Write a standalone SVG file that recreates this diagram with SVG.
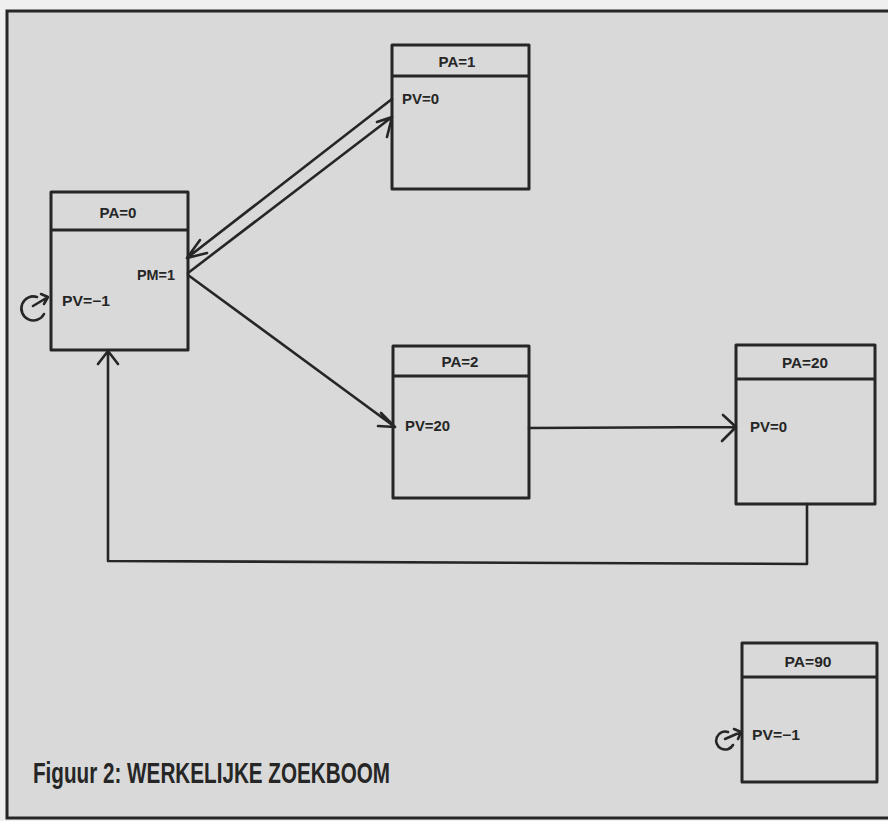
<svg xmlns="http://www.w3.org/2000/svg" width="888" height="821" viewBox="0 0 888 821">
<defs>
<style>
.box{fill:none;stroke:#262626;stroke-width:3;stroke-linejoin:round}
.ln{fill:none;stroke:#262626;stroke-width:2.6;stroke-linecap:round;stroke-linejoin:round}
.t{font-family:"Liberation Sans",Arial,sans-serif;font-weight:bold;font-size:14px;fill:#262626}
.cap{font-family:"Liberation Sans",Arial,sans-serif;font-weight:bold;font-size:30px;fill:#262626}
</style>
</defs>
<rect x="0" y="0" width="888" height="821" fill="#efefef"/>
<rect x="7" y="11" width="890" height="807" fill="#d9d9d9" stroke="#262626" stroke-width="3"/>

<g id="connectors">
<!-- PA=1 to PA=0 -->
<path class="ln" d="M392 99 L187 258 M200 240 L187 258 L207 253"/>
<!-- PA=0 to PA=1 -->
<path class="ln" d="M188 273 L392 117 M377 122 L392 117 L387 137"/>
<!-- PA=0 to PA=2 -->
<path class="ln" d="M188 275 L395 427 M381 413 L395 427 L378 426"/>
<!-- PA=2 to PA=20 -->
<path class="ln" d="M529 428 L736 427 M723 415 L736 427 L722 441"/>
<!-- PA=20 back to PA=0 -->
<path class="ln" d="M807 504 L807 564 L108 561 L108 351 M98 364 L108 351 L118 364"/>
<!-- self loop PA=0 -->
<path class="ln" d="M44 314 A12 12 0 1 1 37 297 M33 306 L48 297 M41 294 L48 297 L44 304"/>
<!-- self loop PA=90 -->
<path class="ln" d="M733 745 A9 9 0 1 1 728 732 M725 739 L741 732 M734 729 L741 732 L738 739"/>
</g>

<g id="node-pa0">
<rect class="box" x="51" y="192" width="137" height="158"/>
<line class="box" x1="51" y1="230" x2="188" y2="230"/>
<text class="t" x="118" y="218" text-anchor="middle" textLength="37" lengthAdjust="spacingAndGlyphs">PA=0</text>
<text class="t" x="137" y="280" textLength="38" lengthAdjust="spacingAndGlyphs">PM=1</text>
<text class="t" x="62" y="306" textLength="48" lengthAdjust="spacingAndGlyphs">PV=−1</text>
</g>

<g id="node-pa1">
<rect class="box" x="392" y="45" width="137" height="144"/>
<line class="box" x1="392" y1="76" x2="529" y2="76"/>
<text class="t" x="457" y="67" text-anchor="middle" textLength="37" lengthAdjust="spacingAndGlyphs">PA=1</text>
<text class="t" x="402" y="104" textLength="37" lengthAdjust="spacingAndGlyphs">PV=0</text>
</g>

<g id="node-pa2">
<rect class="box" x="393" y="346" width="136" height="152"/>
<line class="box" x1="393" y1="376" x2="529" y2="376"/>
<text class="t" x="460" y="367" text-anchor="middle" textLength="37" lengthAdjust="spacingAndGlyphs">PA=2</text>
<text class="t" x="405" y="431" textLength="45" lengthAdjust="spacingAndGlyphs">PV=20</text>
</g>

<g id="node-pa20">
<rect class="box" x="736" y="345" width="139" height="159"/>
<line class="box" x1="736" y1="379" x2="875" y2="379"/>
<text class="t" x="805" y="368" text-anchor="middle" textLength="46" lengthAdjust="spacingAndGlyphs">PA=20</text>
<text class="t" x="750" y="432" textLength="37" lengthAdjust="spacingAndGlyphs">PV=0</text>
</g>

<g id="node-pa90">
<rect class="box" x="742" y="643" width="135" height="139"/>
<line class="box" x1="742" y1="677" x2="877" y2="677"/>
<text class="t" x="808" y="667" text-anchor="middle" textLength="47" lengthAdjust="spacingAndGlyphs">PA=90</text>
<text class="t" x="752" y="740" textLength="48" lengthAdjust="spacingAndGlyphs">PV=−1</text>
</g>

<text class="cap" x="33" y="783" textLength="357" lengthAdjust="spacingAndGlyphs">Figuur 2: WERKELIJKE ZOEKBOOM</text>
</svg>
